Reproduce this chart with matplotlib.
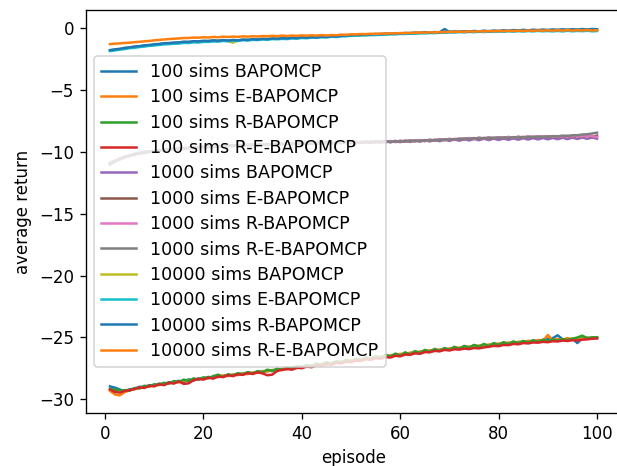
import numpy as np
import matplotlib
matplotlib.use("Agg")
import matplotlib.pyplot as plt

# Episoden 1..100
episodes = list(range(1, 101))

# Werte in Hundertsteln
sims100_bapomcp = [
    -2895, -2905, -2920, -2935, -2918, -2915, -2898, -2902, -2885, -2890,
    -2872, -2880, -2860, -2868, -2850, -2860, -2838, -2848, -2830, -2835,
    -2818, -2828, -2810, -2815, -2800, -2810, -2790, -2800, -2782, -2792,
    -2775, -2782, -2765, -2772, -2755, -2760, -2745, -2752, -2735, -2742,
    -2725, -2730, -2712, -2722, -2705, -2712, -2695, -2700, -2685, -2692,
    -2675, -2682, -2665, -2672, -2655, -2662, -2645, -2650, -2635, -2642,
    -2625, -2630, -2615, -2622, -2605, -2612, -2598, -2605, -2590, -2596,
    -2580, -2590, -2572, -2580, -2565, -2572, -2558, -2565, -2550, -2556,
    -2542, -2552, -2536, -2545, -2530, -2540, -2525, -2535, -2520, -2510,
    -2505, -2482, -2515, -2520, -2510, -2545, -2505, -2508, -2500, -2503]
sims100_e = [
    -2930, -2960, -2968, -2940, -2928, -2910, -2912, -2895, -2898, -2882,
    -2885, -2870, -2872, -2858, -2862, -2848, -2850, -2836, -2840, -2826,
    -2830, -2816, -2820, -2806, -2812, -2798, -2804, -2790, -2796, -2782,
    -2786, -2772, -2776, -2762, -2766, -2752, -2756, -2742, -2746, -2732,
    -2736, -2722, -2726, -2712, -2716, -2702, -2706, -2692, -2696, -2682,
    -2686, -2672, -2676, -2662, -2666, -2652, -2656, -2642, -2646, -2632,
    -2636, -2622, -2626, -2612, -2616, -2604, -2608, -2596, -2600, -2588,
    -2592, -2580, -2584, -2572, -2576, -2564, -2568, -2556, -2560, -2548,
    -2552, -2540, -2546, -2534, -2538, -2526, -2532, -2520, -2526, -2480,
    -2522, -2512, -2518, -2505, -2514, -2506, -2510, -2500, -2506, -2498]
sims100_r = [
    -2915, -2922, -2928, -2925, -2930, -2908, -2910, -2890, -2895, -2878,
    -2882, -2866, -2872, -2852, -2860, -2840, -2852, -2830, -2840, -2822,
    -2828, -2812, -2800, -2818, -2798, -2805, -2790, -2795, -2780, -2790,
    -2772, -2780, -2760, -2770, -2752, -2762, -2742, -2750, -2730, -2742,
    -2722, -2732, -2712, -2720, -2700, -2712, -2692, -2702, -2680, -2695,
    -2672, -2685, -2660, -2675, -2652, -2668, -2640, -2655, -2630, -2648,
    -2620, -2638, -2610, -2625, -2600, -2615, -2592, -2608, -2585, -2600,
    -2575, -2592, -2568, -2582, -2560, -2575, -2552, -2570, -2545, -2560,
    -2538, -2552, -2532, -2545, -2528, -2540, -2522, -2535, -2518, -2530,
    -2515, -2525, -2512, -2520, -2510, -2500, -2485, -2505, -2500, -2498]
sims100_re = [
    -2920, -2940, -2945, -2932, -2925, -2918, -2902, -2908, -2890, -2895,
    -2878, -2885, -2866, -2872, -2855, -2875, -2870, -2845, -2835, -2840,
    -2825, -2832, -2815, -2820, -2805, -2812, -2798, -2802, -2788, -2795,
    -2782, -2790, -2805, -2800, -2770, -2762, -2755, -2760, -2745, -2748,
    -2735, -2740, -2725, -2728, -2715, -2720, -2705, -2710, -2695, -2700,
    -2685, -2690, -2675, -2680, -2668, -2672, -2658, -2662, -2648, -2652,
    -2638, -2640, -2628, -2632, -2618, -2620, -2608, -2612, -2600, -2605,
    -2595, -2598, -2590, -2594, -2585, -2588, -2580, -2575, -2568, -2570,
    -2560, -2562, -2552, -2555, -2545, -2548, -2540, -2542, -2535, -2538,
    -2530, -2532, -2525, -2528, -2522, -2524, -2518, -2515, -2510, -2508]

sims1000_bapomcp = [
    -1100, -1080, -1052, -1048, -1025, -1028, -1005, -1010, -995, -1000,
    -985, -990, -978, -985, -970, -978, -965, -972, -960, -968,
    -955, -963, -950, -958, -948, -955, -943, -952, -940, -948,
    -938, -946, -935, -944, -933, -942, -930, -940, -928, -938,
    -926, -936, -925, -934, -922, -933, -921, -931, -920, -930,
    -918, -929, -916, -927, -914, -926, -913, -924, -911, -922,
    -910, -920, -908, -918, -905, -916, -903, -914, -901, -912,
    -899, -910, -897, -908, -895, -906, -894, -905, -893, -904,
    -892, -903, -891, -902, -890, -901, -889, -900, -888, -899,
    -887, -898, -886, -897, -885, -896, -884, -895, -884, -894]
sims1000_e = [
    -1090, -1070, -1062, -1038, -1034, -1015, -1016, -1000, -1004, -990,
    -993, -982, -986, -974, -979, -968, -973, -962, -968, -957,
    -964, -952, -960, -950, -956, -946, -952, -942, -950, -940,
    -947, -937, -945, -935, -943, -934, -941, -931, -938, -929,
    -936, -927, -935, -925, -934, -924, -932, -922, -931, -921,
    -929, -919, -927, -917, -925, -915, -923, -913, -921, -911,
    -918, -907, -916, -905, -914, -902, -911, -898, -907, -895,
    -904, -893, -900, -889, -897, -886, -895, -884, -893, -882,
    -891, -880, -889, -878, -887, -876, -885, -875, -884, -874,
    -883, -873, -882, -872, -881, -871, -880, -870, -879, -869]
sims1000_r = [
    -1105, -1072, -1060, -1045, -1028, -1022, -1010, -1003, -1001, -992,
    -988, -984, -984, -976, -977, -970, -971, -965, -966, -960,
    -962, -955, -958, -952, -954, -948, -950, -944, -947, -941,
    -944, -938, -942, -936, -940, -934, -938, -932, -935, -929,
    -933, -928, -932, -926, -931, -925, -929, -923, -928, -922,
    -926, -920, -924, -918, -922, -916, -920, -914, -918, -912,
    -915, -909, -913, -907, -911, -904, -907, -900, -903, -897,
    -900, -893, -896, -890, -893, -887, -891, -885, -889, -883,
    -887, -881, -885, -879, -883, -877, -881, -876, -880, -875,
    -878, -874, -877, -873, -876, -872, -875, -871, -874, -880]
sims1000_re = [
    -1098, -1078, -1055, -1040, -1032, -1018, -1014, -1003, -997, -996,
    -987, -988, -980, -980, -973, -974, -967, -969, -962, -964,
    -958, -960, -954, -956, -950, -952, -946, -948, -943, -945,
    -940, -943, -938, -941, -936, -939, -934, -937, -931, -934,
    -929, -933, -928, -931, -927, -930, -925, -928, -924, -927,
    -922, -925, -920, -923, -918, -921, -916, -919, -914, -917,
    -911, -914, -909, -912, -907, -909, -903, -906, -899, -902,
    -896, -899, -892, -896, -889, -893, -887, -891, -885, -889,
    -883, -887, -881, -885, -879, -883, -877, -881, -875, -879,
    -873, -875, -869, -871, -866, -866, -860, -858, -852, -845]

sims10000_bapomcp = [
    -181, -174, -169, -162, -157, -153, -148, -143, -138, -134,
    -131, -126, -124, -120, -118, -114, -113, -109, -109, -105,
    -105, -101, -102, -99, -104, -118, -100, -94, -95, -90,
    -91, -87, -88, -84, -85, -81, -82, -77, -78, -74,
    -75, -71, -72, -68, -69, -64, -65, -61, -60, -57,
    -58, -54, -55, -52, -52, -49, -49, -46, -47, -43,
    -44, -41, -42, -38, -39, -36, -37, -33, -34, -31,
    -32, -29, -31, -28, -29, -26, -27, -25, -26, -23,
    -24, -21, -22, -19, -20, -18, -19, -16, -18, -15,
    -17, -14, -16, -13, -15, -12, -14, -12, -13, -11]
sims10000_e = [
    -186, -181, -174, -170, -162, -160, -153, -150, -143, -141,
    -136, -132, -130, -127, -125, -120, -121, -115, -117, -112,
    -112, -108, -110, -104, -107, -101, -104, -98, -101, -95,
    -97, -92, -95, -89, -91, -87, -89, -84, -86, -80,
    -82, -77, -79, -74, -76, -70, -72, -67, -66, -62,
    -62, -59, -60, -56, -57, -53, -54, -50, -51, -47,
    -48, -45, -46, -42, -43, -40, -41, -37, -38, -35,
    -36, -33, -35, -31, -33, -30, -32, -29, -31, -27,
    -30, -26, -29, -25, -28, -24, -27, -23, -26, -24,
    -27, -23, -27, -22, -26, -23, -25, -22, -26, -24]
sims10000_r = [
    -178, -172, -168, -160, -156, -149, -146, -139, -137, -131,
    -128, -122, -121, -117, -116, -110, -111, -106, -107, -103,
    -104, -99, -102, -97, -100, -96, -99, -93, -95, -90,
    -92, -87, -89, -84, -86, -82, -83, -78, -80, -75,
    -77, -72, -74, -70, -71, -66, -68, -62, -60, -57,
    -55, -56, -50, -53, -47, -50, -44, -47, -41, -44,
    -39, -42, -36, -39, -33, -37, -32, -35, -8, -31,
    -27, -30, -25, -29, -23, -27, -21, -26, -20, -24,
    -18, -22, -16, -20, -14, -19, -13, -17, -12, -16,
    -11, -15, -10, -14, -9, -13, -8, -12, -7, -10]
sims10000_re = [
    -130, -126, -124, -120, -118, -114, -111, -107, -104, -99,
    -96, -92, -89, -86, -84, -80, -80, -77, -78, -74,
    -76, -72, -74, -70, -72, -69, -71, -67, -69, -66,
    -68, -64, -66, -63, -65, -61, -64, -60, -63, -59,
    -62, -58, -61, -57, -60, -56, -58, -53, -54, -50,
    -51, -48, -49, -46, -47, -44, -45, -42, -43, -40,
    -41, -38, -39, -36, -37, -34, -35, -32, -33, -30,
    -31, -29, -30, -27, -28, -26, -27, -24, -26, -23,
    -25, -22, -24, -21, -23, -20, -22, -19, -21, -18,
    -21, -18, -20, -17, -20, -17, -19, -16, -19, -18]

labels = [
    "100 sims BAPOMCP", "100 sims E-BAPOMCP", "100 sims R-BAPOMCP", "100 sims R-E-BAPOMCP",
    "1000 sims BAPOMCP", "1000 sims E-BAPOMCP", "1000 sims R-BAPOMCP", "1000 sims R-E-BAPOMCP",
    "10000 sims BAPOMCP", "10000 sims E-BAPOMCP", "10000 sims R-BAPOMCP", "10000 sims R-E-BAPOMCP",
]
series = [
    sims100_bapomcp, sims100_e, sims100_r, sims100_re,
    sims1000_bapomcp, sims1000_e, sims1000_r, sims1000_re,
    sims10000_bapomcp, sims10000_e, sims10000_r, sims10000_re,
]

fig = plt.figure(figsize=(617 / 120, 466 / 120), dpi=120)
ax = fig.add_axes([85.6 / 617, 1 - 413 / 466, (621.4 - 85.6) / 617, (413 - 10) / 466])

for lab, vals in zip(labels, series):
    ax.plot(episodes, np.array(vals) / 100.0, label=lab)

ax.set_xlim(-3.95, 104.95)
ax.set_ylim(-31.1, 1.46)
ax.set_xlabel("episode")
ax.set_ylabel("average return")
ax.legend(loc="center left", fontsize=10.5, labelspacing=0.42)

fig.savefig("out.png", dpi=120)
